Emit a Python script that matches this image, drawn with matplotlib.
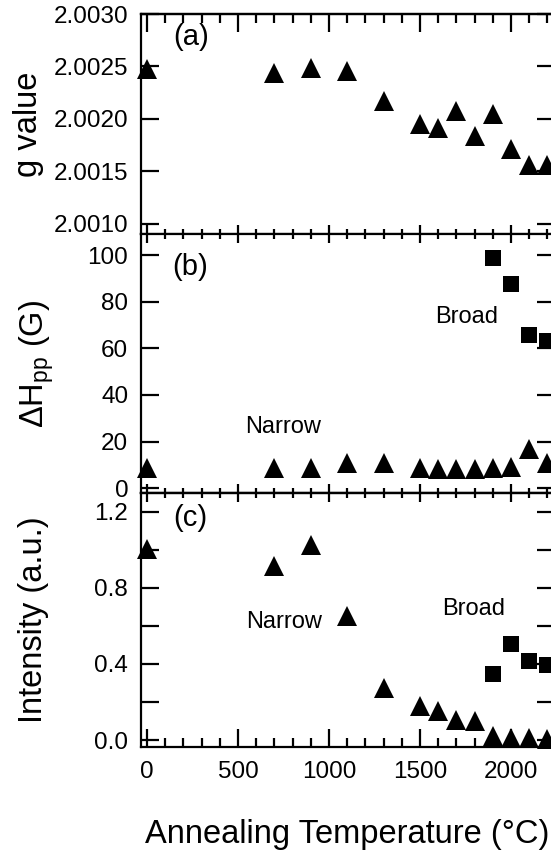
import numpy as np
import matplotlib
matplotlib.use('Agg')
import matplotlib.pyplot as plt
from matplotlib.ticker import MultipleLocator, FuncFormatter

plt.rcParams['font.family'] = ['Liberation Sans', 'DejaVu Sans']
plt.rcParams['mathtext.fontset'] = 'custom'
plt.rcParams['mathtext.rm'] = 'Liberation Sans'
plt.rcParams['mathtext.it'] = 'Liberation Sans:italic'

# annealing temperatures (deg C)
temps = [0, 700, 900, 1100, 1300, 1500, 1600, 1700, 1800, 1900, 2000, 2100, 2200]
broad_temps = [1900, 2000, 2100, 2200]

# (a) g value
g_value = [2.00248, 2.00244, 2.00249, 2.00246, 2.00217, 2.00195, 2.00191,
           2.00208, 2.00184, 2.00205, 2.00171, 2.00156, 2.00156]

# (b) linewidth dHpp (G)
width_narrow = [8.6, 8.5, 8.5, 10.8, 10.8, 8.8, 8.4, 8.4, 8.4, 8.5, 9.3, 16.8, 10.8]
width_broad = [98.8, 87.5, 65.9, 63.2]

# (c) intensity (a.u.)
int_narrow = [1.002, 0.915, 1.023, 0.651, 0.273, 0.177, 0.153, 0.106, 0.102,
              0.020, 0.009, 0.012, 0.007]
int_broad = [0.345, 0.506, 0.415, 0.394]

W, H = 551, 852
LEFT, RIGHT = 140.7, 554.5


def box(top, bottom):
    return [LEFT / W, 1 - bottom / H, (RIGHT - LEFT) / W, (bottom - top) / H]


fig = plt.figure(figsize=(W / 100, H / 100), dpi=100)
ax_a = fig.add_axes(box(14, 234.3))
ax_b = fig.add_axes(box(234.3, 492.7))
ax_c = fig.add_axes(box(492.7, 747.3))

lw = 1.6
tick_fs = 17.5
note_fs = 17
panel_fs = 21
lab_fs = 23.5
long_maj, long_min = 13, 6.5
short_maj, short_min = 6.5, 3.3

for ax in (ax_a, ax_b, ax_c):
    ax.set_xlim(-34.6, 2239)
    ax.xaxis.set_major_locator(MultipleLocator(500))
    ax.xaxis.set_minor_locator(MultipleLocator(100))
    for s in ax.spines.values():
        s.set_linewidth(lw)
    ax.tick_params(axis='y', which='major', direction='in', left=True, right=True,
                   length=long_maj, width=lw, labelsize=tick_fs, pad=9)
    ax.tick_params(axis='x', which='both', direction='in', width=lw,
                   labelsize=tick_fs, labelbottom=False)
    ax.tick_params(axis='x', which='major', length=short_maj)
    ax.tick_params(axis='x', which='minor', length=short_min)


def top_ticks(ax, maj, mn):
    sec = ax.secondary_xaxis('top')
    sec.xaxis.set_major_locator(MultipleLocator(500))
    sec.xaxis.set_minor_locator(MultipleLocator(100))
    sec.tick_params(which='both', direction='in', width=lw, labeltop=False)
    sec.tick_params(which='major', length=maj)
    sec.tick_params(which='minor', length=mn)
    sec.spines['top'].set_linewidth(lw)


# (a)
ax_a.tick_params(axis='x', top=False, bottom=True)
top_ticks(ax_a, long_maj, long_min)
ax_a.plot(temps, g_value, '^', color='black', ms=14, mew=0, clip_on=False)
ax_a.set_ylim(2.00090, 2.00300)
ax_a.yaxis.set_major_locator(MultipleLocator(0.0005))
ax_a.yaxis.set_major_formatter(FuncFormatter(lambda v, p: f'{v:.4f}'))
ax_a.text(0.122, 0.896, '(a)', transform=ax_a.transAxes, fontsize=panel_fs,
          ha='center', va='center')

# (b)
ax_b.tick_params(axis='x', which='both', top=True, bottom=True)
ax_b.plot(temps, width_narrow, '^', color='black', ms=14, mew=0, clip_on=False)
ax_b.plot(broad_temps, width_broad, 's', color='black', ms=11.5, mew=0, clip_on=False)
ax_b.set_ylim(-1.9, 108.9)
ax_b.yaxis.set_major_locator(MultipleLocator(20))
ax_b.text(0.120, 0.875, '(b)', transform=ax_b.transAxes, fontsize=panel_fs,
          ha='center', va='center')
ax_b.text(1758, 73.5, 'Broad', fontsize=note_fs, ha='center', va='center')
ax_b.text(750, 26.4, 'Narrow', fontsize=note_fs, ha='center', va='center')

# (c)
ax_c.tick_params(axis='x', which='both', top=False, bottom=True,
                 labelbottom=True, pad=10)
ax_c.tick_params(axis='x', which='major', length=long_maj)
ax_c.tick_params(axis='x', which='minor', length=long_min)
top_ticks(ax_c, short_maj, short_min)
ax_c.plot(temps, int_narrow, '^', color='black', ms=14, mew=0, clip_on=False)
ax_c.plot(broad_temps, int_broad, 's', color='black', ms=11.5, mew=0, clip_on=False)
ax_c.set_ylim(-0.038, 1.30)
ax_c.yaxis.set_major_locator(MultipleLocator(0.2))
ax_c.yaxis.set_major_formatter(FuncFormatter(
    lambda v, p: f'{v:.1f}' if abs(v / 0.4 - round(v / 0.4)) < 1e-6 else ''))
ax_c.text(0.119, 0.899, '(c)', transform=ax_c.transAxes, fontsize=panel_fs,
          ha='center', va='center')
ax_c.text(755, 0.62, 'Narrow', fontsize=note_fs, ha='center', va='center')
ax_c.text(1794, 0.69, 'Broad', fontsize=note_fs, ha='center', va='center')
ax_c.set_xlabel('Annealing Temperature (°C)', fontsize=lab_fs, labelpad=26)

# y labels, placed by baseline
fig.text(37 / W, 1 - 124 / H, 'g value', fontsize=lab_fs, rotation=90,
         ha='center', va='baseline', rotation_mode='anchor')
fig.text(44 / W, 1 - 363.5 / H, r'$\Delta$H$_{\mathrm{pp}}$ (G)', fontsize=lab_fs,
         rotation=90, ha='center', va='baseline', rotation_mode='anchor')
fig.text(42 / W, 1 - 620 / H, 'Intensity (a.u.)', fontsize=lab_fs, rotation=90,
         ha='center', va='baseline', rotation_mode='anchor')

fig.savefig('out.png', dpi=100)
